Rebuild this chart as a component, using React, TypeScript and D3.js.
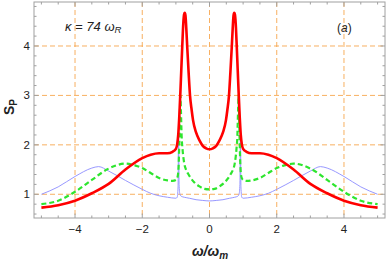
import React from "react";
import * as d3 from "d3";

const redX = [-5, -4.5, -4, -3.5, -3, -2.5, -2, -1.75, -1.5, -1.25, -1.1, -1.0, -0.96, -0.93, -0.9, -0.87, -0.84, -0.81, -0.78, -0.755, -0.735, -0.715, -0.69, -0.66, -0.62, -0.58, -0.53, -0.49, -0.4, -0.29, -0.2, -0.1, 0,
  0.1, 0.2, 0.29, 0.4, 0.49, 0.53, 0.58, 0.62, 0.66, 0.69, 0.715, 0.735, 0.755, 0.78, 0.81, 0.84, 0.87, 0.9, 0.93, 0.96, 1.0, 1.1, 1.25, 1.5, 1.75, 2, 2.5, 3, 3.5, 4, 4.5, 5];
const redY = [0.73, 0.78, 0.87, 1.02, 1.21, 1.5, 1.73, 1.8, 1.83, 1.83, 1.86, 1.92, 2.02, 2.2, 2.55, 3.0, 3.5, 4.0, 4.45, 4.64, 4.67, 4.62, 4.35, 3.95, 3.45, 3.0, 2.7, 2.5, 2.25, 2.08, 1.98, 1.93, 1.91,
  1.93, 1.98, 2.08, 2.25, 2.5, 2.7, 3.0, 3.45, 3.95, 4.35, 4.62, 4.67, 4.64, 4.45, 4.0, 3.5, 3.0, 2.55, 2.2, 2.02, 1.92, 1.86, 1.83, 1.83, 1.8, 1.73, 1.5, 1.21, 1.02, 0.87, 0.78, 0.73];

const greenX = [-5, -4.5, -4, -3.5, -3, -2.5, -2.2, -2, -1.75, -1.5, -1.25, -1.1, -1.0, -0.95, -0.92, -0.9, -0.88, -0.865, -0.85, -0.83, -0.8, -0.75, -0.7, -0.64, -0.55, -0.45, -0.3, -0.15, 0,
  0.15, 0.3, 0.45, 0.55, 0.64, 0.7, 0.75, 0.8, 0.83, 0.85, 0.865, 0.88, 0.9, 0.92, 0.95, 1.0, 1.1, 1.25, 1.5, 1.75, 2, 2.2, 2.5, 3, 3.5, 4, 4.5, 5];
const greenY = [0.8, 0.87, 1.05, 1.29, 1.52, 1.62, 1.58, 1.53, 1.43, 1.33, 1.28, 1.27, 1.29, 1.35, 1.55, 2.0, 2.6, 3.0, 2.7, 2.2, 1.9, 1.62, 1.5, 1.42, 1.32, 1.24, 1.16, 1.11, 1.1,
  1.11, 1.16, 1.24, 1.32, 1.42, 1.5, 1.62, 1.9, 2.2, 2.7, 3.0, 2.6, 2.0, 1.55, 1.35, 1.29, 1.27, 1.28, 1.33, 1.43, 1.53, 1.58, 1.62, 1.52, 1.29, 1.05, 0.87, 0.8];

const blueX = [-5, -4.5, -4, -3.5, -3.3, -3, -2.5, -2, -1.75, -1.5, -1.25, -1.0, -0.96, -0.935, -0.92, -0.905, -0.88, -0.84, -0.75, -0.6, -0.4, -0.2, 0,
  0.2, 0.4, 0.6, 0.75, 0.84, 0.88, 0.905, 0.92, 0.935, 0.96, 1.0, 1.25, 1.5, 1.75, 2, 2.5, 3, 3.3, 3.5, 4, 4.5, 5];
const blueY = [1.0, 1.15, 1.36, 1.53, 1.56, 1.47, 1.28, 1.1, 1.02, 0.97, 0.94, 0.92, 0.94, 1.15, 2.45, 1.2, 1.0, 0.96, 0.94, 0.92, 0.89, 0.875, 0.865,
  0.875, 0.89, 0.92, 0.94, 0.96, 1.0, 1.2, 2.45, 1.15, 0.94, 0.92, 0.94, 0.97, 1.02, 1.1, 1.28, 1.47, 1.56, 1.53, 1.36, 1.15, 1.0];

const xMajor = [-4, -2, 0, 2, 4];
const xMajorLabels = ["\u22124", "\u22122", "0", "2", "4"];
const yMajor = [1, 2, 3, 4];
const yMajorLabels = ["1", "2", "3", "4"];

export default function App() {
  const W = 388, H = 263;
  const L = 34, R = 385, T = 2, B = 218;
  const x = d3.scaleLinear().domain([-5.22, 5.22]).range([L, R]);
  const y = d3.scaleLinear().domain([0.52, 4.89]).range([B, T]);

  const mk = (xs: number[], ys: number[]) =>
    d3.line<number>().x((_, i) => x(xs[i])).y((_, i) => y(ys[i])).curve(d3.curveMonotoneX)(xs.map((v) => v)) || "";

  const xMinor = d3.range(-5, 5.01, 0.5).filter((v) => Math.abs(v % 2) > 1e-6);
  const yMinor = d3.range(0.6, 4.81, 0.2).filter((v) => Math.abs(v - Math.round(v)) > 1e-6);

  const frame = "#a0a0a0";
  const grid = "#f7a347";
  const font = "Liberation Sans, Arial, sans-serif";

  return (
    <svg width={W} height={H} style={{ position: "absolute", left: 0, top: 0 }}>
      <rect width={W} height={H} fill="white" />
      <g>
        {xMajor.map((v) => (
          <line key={"gx" + v} x1={x(v)} x2={x(v)} y1={T} y2={B} stroke={grid} strokeWidth={1} strokeDasharray="5,3" opacity={0.85} />
        ))}
        {yMajor.map((v) => (
          <line key={"gy" + v} x1={L} x2={R} y1={y(v)} y2={y(v)} stroke={grid} strokeWidth={1} strokeDasharray="5,3" opacity={0.85} />
        ))}
      </g>
      <g clipPath="url(#clip)">
        <clipPath id="clip"><rect x={L} y={T} width={R - L} height={B - T} /></clipPath>
        <path d={mk(blueX, blueY)} fill="none" stroke="#8c8cff" strokeWidth={0.9} />
        <path d={mk(greenX, greenY)} fill="none" stroke="#2ee52e" strokeWidth={2.2} strokeDasharray="5,3" />
        <path d={mk(redX, redY)} fill="none" stroke="#ff0000" strokeWidth={2.6} strokeLinejoin="round" />
      </g>
      <g stroke={frame} fill="none">
        <rect x={L} y={T} width={R - L} height={B - T} strokeWidth={1} />
        {xMajor.map((v) => (
          <g key={"tx" + v}>
            <line x1={x(v)} x2={x(v)} y1={B} y2={B - 4.5} />
            <line x1={x(v)} x2={x(v)} y1={T} y2={T + 4.5} />
          </g>
        ))}
        {xMinor.map((v) => (
          <g key={"mx" + v}>
            <line x1={x(v)} x2={x(v)} y1={B} y2={B - 2.5} />
            <line x1={x(v)} x2={x(v)} y1={T} y2={T + 2.5} />
          </g>
        ))}
        {yMajor.map((v) => (
          <g key={"ty" + v}>
            <line x1={L} x2={L + 4.5} y1={y(v)} y2={y(v)} />
            <line x1={R} x2={R - 4.5} y1={y(v)} y2={y(v)} />
          </g>
        ))}
        {yMinor.map((v) => (
          <g key={"my" + v}>
            <line x1={L} x2={L + 2.5} y1={y(v)} y2={y(v)} />
            <line x1={R} x2={R - 2.5} y1={y(v)} y2={y(v)} />
          </g>
        ))}
      </g>
      <g fontFamily={font} fontSize={11.5} fill="#222">
        {xMajor.map((v, i) => (
          <text key={"lx" + v} x={x(v)} y={233} textAnchor="middle">{xMajorLabels[i]}</text>
        ))}
        {yMajor.map((v, i) => (
          <text key={"ly" + v} x={30} y={y(v) + 4} textAnchor="end">{yMajorLabels[i]}</text>
        ))}
      </g>
      <text x={210} y={256} textAnchor="middle" fontFamily={font} fontSize={14} fontWeight="bold" fontStyle="italic" fill="#222">
        ω/ω<tspan fontSize={10} dy={3}>m</tspan>
      </text>
      <text transform="translate(14,107) rotate(-90)" textAnchor="middle" fontFamily={font} fontSize={14} fontWeight="bold" fill="#222">
        S<tspan fontSize={10} dy={3}>P</tspan>
      </text>
      <text x={65} y={31} fontFamily={font} fontSize={13} fontStyle="italic" fill="#222">
        κ = 74 ω<tspan fontSize={9.5} dy={2}>R</tspan>
      </text>
      <text x={337} y={32} fontFamily={font} fontSize={12} fill="#222">
        (<tspan fontStyle="italic">a</tspan>)
      </text>
    </svg>
  );
}
